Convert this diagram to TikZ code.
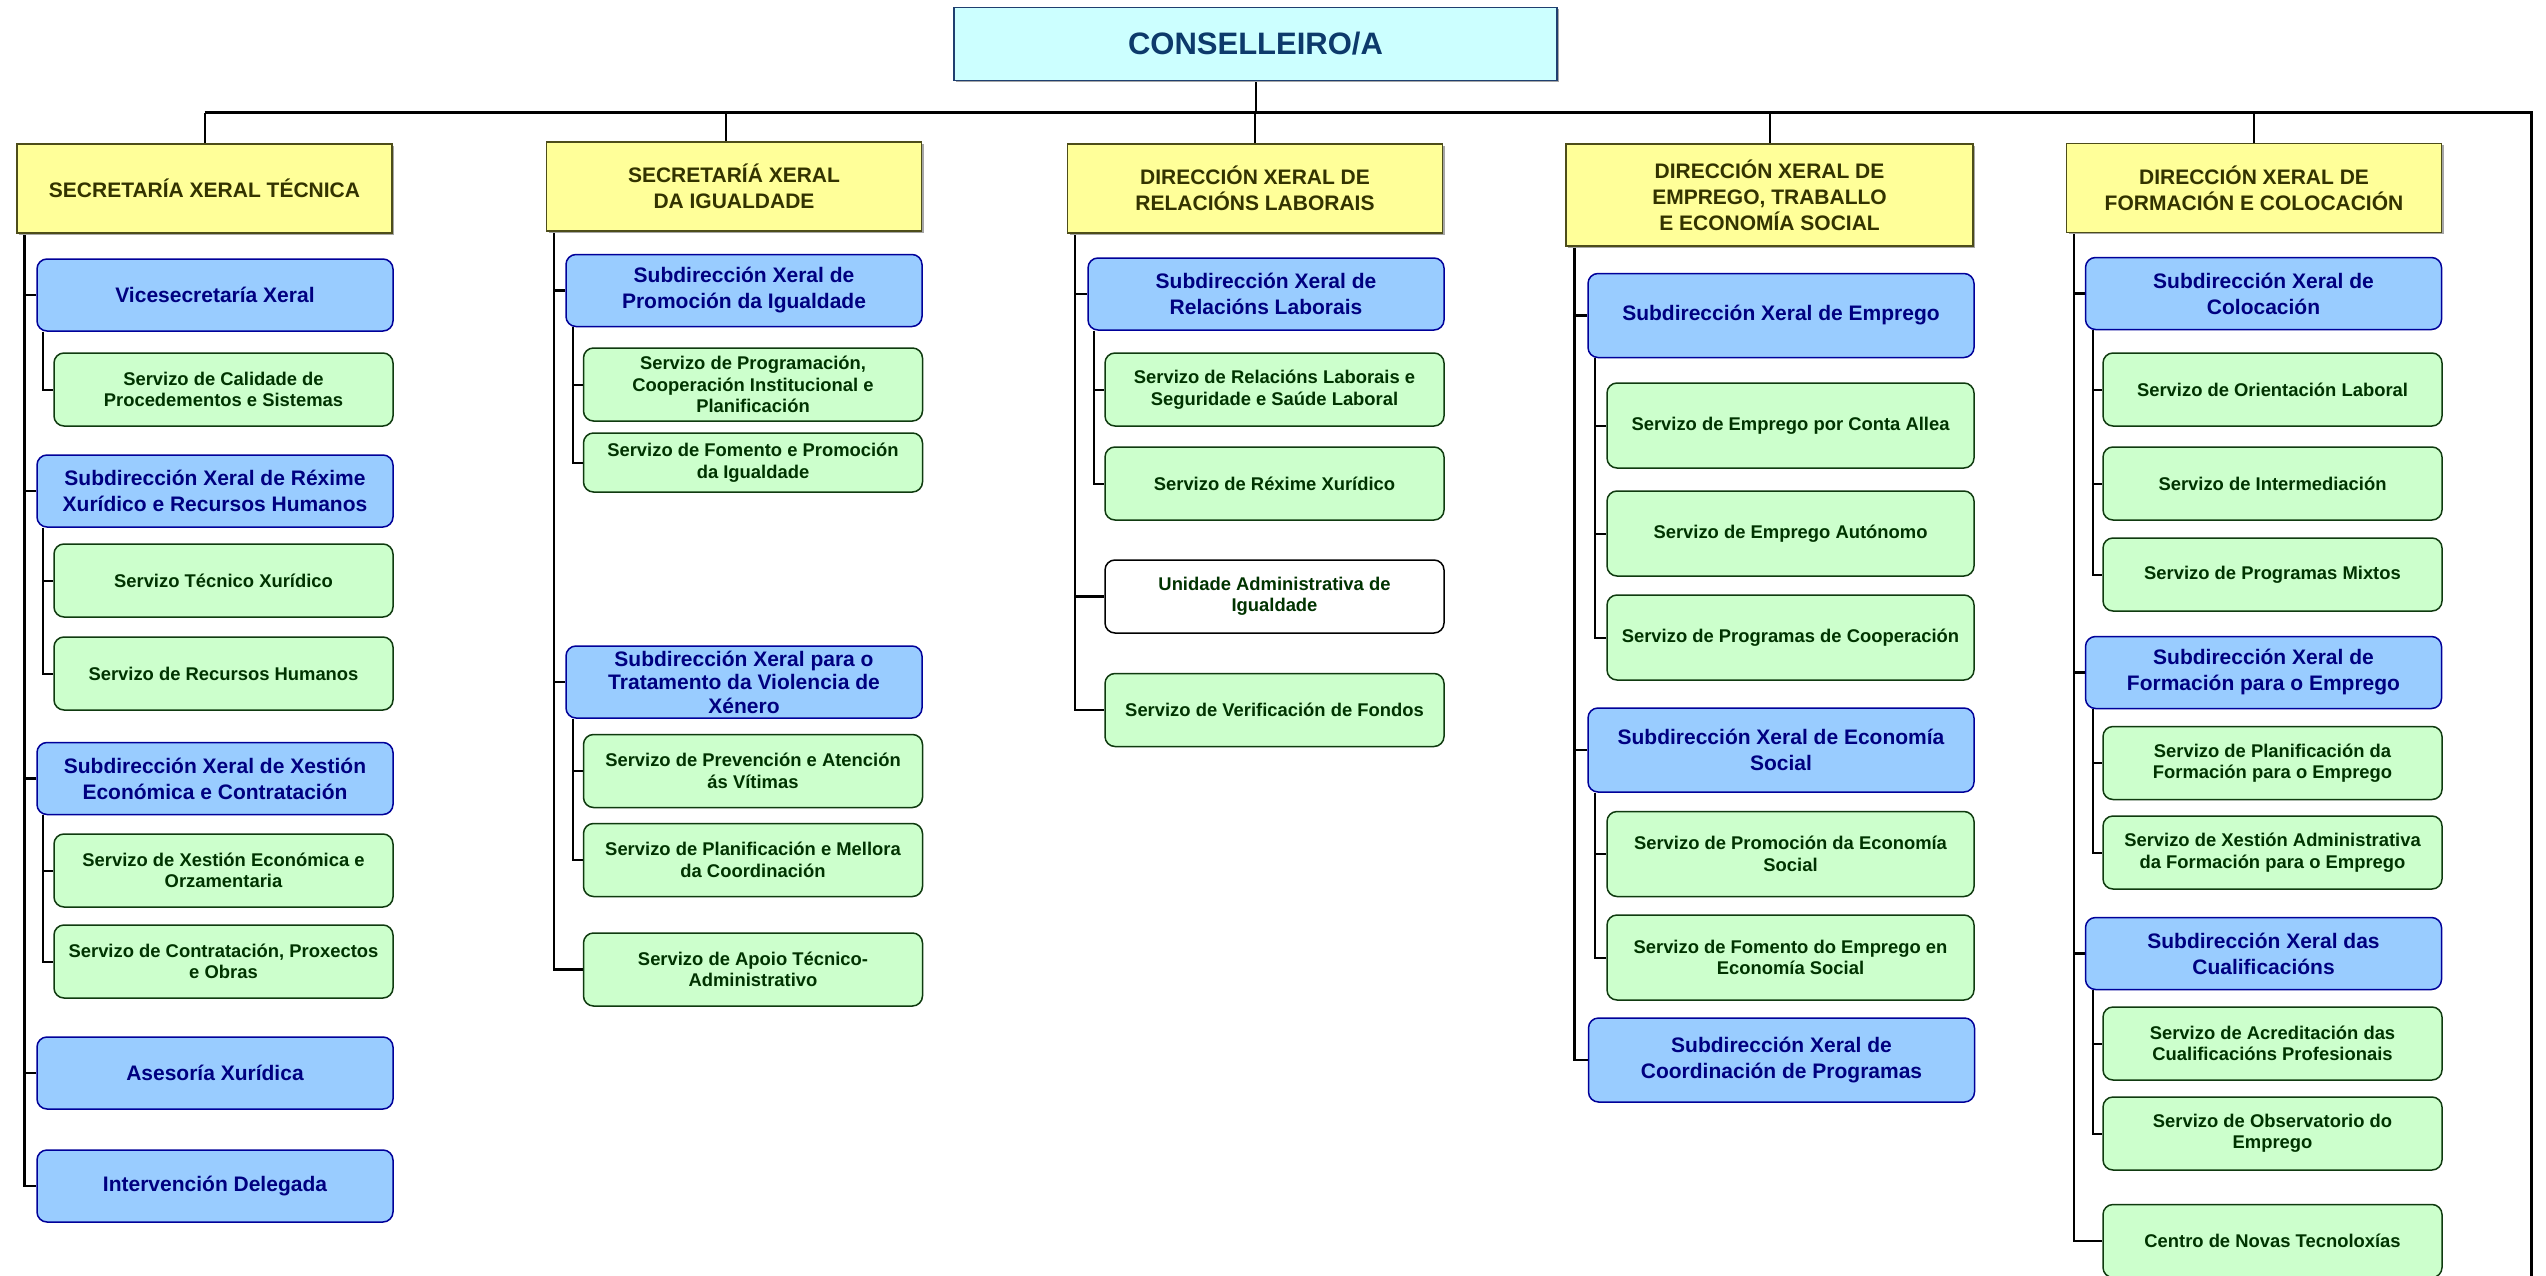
\documentclass[tikz,border=0pt]{standalone}
\usepackage{fontspec}
\setmainfont{Liberation Sans}
\usetikzlibrary{backgrounds,shadows}

\definecolor{chieffill}{HTML}{CCFFFF}
\definecolor{chiefline}{HTML}{1F3F6F}
\definecolor{chieftext}{HTML}{0D3A6B}
\definecolor{dirfill}{HTML}{FFFF99}
\definecolor{dirline}{HTML}{4D4D1A}
\definecolor{dirtext}{HTML}{333300}
\definecolor{subfill}{HTML}{99CCFF}
\definecolor{subline}{HTML}{000099}
\definecolor{subtext}{HTML}{000080}
\definecolor{servfill}{HTML}{CCFFCC}
\definecolor{servline}{HTML}{0F3A0F}
\definecolor{servtext}{HTML}{003300}

\tikzset{
  chief/.style={draw=chiefline, fill=chieffill, line width=1.5pt, text=chieftext,
    font=\bfseries\fontsize{31}{37}\selectfont, minimum width=603pt, minimum height=73pt,
    drop shadow={shadow xshift=2pt, shadow yshift=-2pt, fill=black!35, opacity=1}},
  dirbox/.style={draw=dirline, fill=dirfill, line width=1.5pt, text=dirtext, align=center,
    font=\bfseries\fontsize{21}{26}\selectfont, minimum width=375pt, minimum height=89pt,
    drop shadow={shadow xshift=2pt, shadow yshift=-2pt, fill=black!35, opacity=1}},
  subbox/.style={draw=subline, fill=subfill, rounded corners=10pt, line width=1.5pt,
    text=subtext, align=center, font=\bfseries\fontsize{21}{26}\selectfont,
    minimum width=356pt, minimum height=72pt, inner sep=2pt},
  servbox/.style={draw=servline, fill=servfill, rounded corners=10pt, line width=1.5pt,
    text=servtext, align=center, font=\bfseries\fontsize{18.4}{21.5}\selectfont,
    minimum width=339pt, minimum height=73pt, inner sep=2pt},
  unitbox/.style={servbox, fill=white, draw=black},
  widesub/.style={subbox, minimum width=386pt, minimum height=84pt},
  wideserv/.style={servbox, minimum width=367pt, minimum height=85pt},
  branch/.style={line width=2pt},
  trunk/.style={line width=2.5pt},
  bus/.style={line width=3pt},
}

\begin{document}
\begin{tikzpicture}[x=1pt, y=-1pt]
  \useasboundingbox (0,0) rectangle (2546,1276);
  \coordinate (busL) at (204.5,113);
  \coordinate (busR) at (2531,113);
  \coordinate (busEnd) at (2531,1276);

  \node[chief] (cons) at (1255.5,44) {CONSELLEIRO/A};

  % direccions xerais
  \node[dirbox] (sxt) at (204.5,188.5) {SECRETARÍA XERAL TÉCNICA};
  \node[dirbox] (sxi) at (734,186.5) {SECRETARÍÁ XERAL\\DA IGUALDADE};
  \node[dirbox] (dxrl) at (1255,188.5) {DIRECCIÓN XERAL DE\\RELACIÓNS LABORAIS};
  \node[dirbox, minimum width=407pt, minimum height=102pt] (dxetes) at (1769.5,195)
    {DIRECCIÓN XERAL DE\\EMPREGO, TRABALLO\\E ECONOMÍA SOCIAL};
  \node[dirbox] (dxfc) at (2254,188) {DIRECCIÓN XERAL DE\\FORMACIÓN E COLOCACIÓN};

  % secretaria xeral tecnica
  \node[subbox] (vice) at (215,295) {Vicesecretaría Xeral};
  \node[servbox] (calid) at (223.5,389.5) {Servizo de Calidade de\\Procedementos e Sistemas};
  \node[subbox] (rexime) at (215,491) {Subdirección Xeral de Réxime\\Xurídico e Recursos Humanos};
  \node[servbox] (tecxur) at (223.5,580.5) {Servizo Técnico Xurídico};
  \node[servbox] (rrhh) at (223.5,673.5) {Servizo de Recursos Humanos};
  \node[subbox] (xestec) at (215,778.5) {Subdirección Xeral de Xestión\\Económica e Contratación};
  \node[servbox] (orzam) at (223.5,870.5) {Servizo de Xestión Económica e\\Orzamentaria};
  \node[servbox] (contrat) at (223.5,961.5) {Servizo de Contratación, Proxectos\\e Obras};
  \node[subbox] (asesor) at (215,1073) {Asesoría Xurídica};
  \node[subbox] (interv) at (215,1186) {Intervención Delegada};

  % secretaria xeral da igualdade
  \node[subbox] (promig) at (744,290.5) {Subdirección Xeral de\\Promoción da Igualdade};
  \node[servbox] (program) at (753,384.5) {Servizo de Programación,\\Cooperación Institucional e\\Planificación};
  \node[servbox, minimum height=59pt] (fomento) at (753,462.5) {Servizo de Fomento e Promoción\\da Igualdade};
  \node[subbox, font=\bfseries\fontsize{21}{23.5}\selectfont] (violen) at (744,682)
    {Subdirección Xeral para o\\Tratamento da Violencia de\\Xénero};
  \node[servbox] (prevenc) at (753,771) {Servizo de Prevención e Atención\\ás Vítimas};
  \node[servbox] (planmel) at (753,860) {Servizo de Planificación e Mellora\\da Coordinación};
  \node[servbox] (apoio) at (753,969.5) {Servizo de Apoio Técnico-\\Administrativo};

  % relacions laborais
  \node[subbox] (rellab) at (1266,294) {Subdirección Xeral de\\Relacións Laborais};
  \node[servbox] (segsaude) at (1274.5,389.5) {Servizo de Relacións Laborais e\\Seguridade e Saúde Laboral};
  \node[servbox] (rexxur) at (1274.5,483.5) {Servizo de Réxime Xurídico};
  \node[unitbox] (unidade) at (1274.5,596.5) {Unidade Administrativa de\\Igualdade};
  \node[servbox] (verif) at (1274.5,710) {Servizo de Verificación de Fondos};

  % emprego, traballo e economia social
  \node[widesub] (emprego) at (1781,315.5) {Subdirección Xeral de Emprego};
  \node[wideserv] (contaallea) at (1790.5,425.5) {Servizo de Emprego por Conta Allea};
  \node[wideserv] (autonomo) at (1790.5,533.5) {Servizo de Emprego Autónomo};
  \node[wideserv] (coopera) at (1790.5,637.5) {Servizo de Programas de Cooperación};
  \node[widesub] (econsoc) at (1781,750) {Subdirección Xeral de Economía\\Social};
  \node[wideserv] (promec) at (1790.5,854) {Servizo de Promoción da Economía\\Social};
  \node[wideserv] (fomec) at (1790.5,957.5) {Servizo de Fomento do Emprego en\\Economía Social};
  \node[widesub] (coordprog) at (1781.5,1060) {Subdirección Xeral de\\Coordinación de Programas};

  % formacion e colocacion
  \node[subbox] (coloc) at (2263.5,293.5) {Subdirección Xeral de\\Colocación};
  \node[servbox] (orient) at (2272.5,389.5) {Servizo de Orientación Laboral};
  \node[servbox] (interm) at (2272.5,483.5) {Servizo de Intermediación};
  \node[servbox] (mixtos) at (2272.5,574.5) {Servizo de Programas Mixtos};
  \node[subbox] (formac) at (2263.5,672.5) {Subdirección Xeral de\\Formación para o Emprego};
  \node[servbox] (planform) at (2272.5,763) {Servizo de Planificación da\\Formación para o Emprego};
  \node[servbox] (xestadm) at (2272.5,852.5) {Servizo de Xestión Administrativa\\da Formación para o Emprego};
  \node[subbox] (cualif) at (2263.5,953.5) {Subdirección Xeral das\\Cualificacións};
  \node[servbox] (acredit) at (2272.5,1043.5) {Servizo de Acreditación das\\Cualificacións Profesionais};
  \node[servbox] (observ) at (2272.5,1133.5) {Servizo de Observatorio do\\Emprego};
  \node[servbox] (cnt) at (2272.5,1241) {Centro de Novas Tecnoloxías};

  \begin{scope}[on background layer]
    \draw[bus] (busL) -- (busR) -- (busEnd);
    \draw[branch] (cons.south) -- (cons.south |- busL);
    \foreach \d in {sxt,dxrl,dxetes,dxfc}
      \draw[branch] (\d.north) -- (\d.north |- busL);
    \draw[branch] ([xshift=-8pt]sxi.north) -- ([xshift=-8pt]sxi.north |- busL);

    % trunks
    \foreach \n in {vice,rexime,xestec,asesor,interv}
      \draw[trunk] ([xshift=8pt]sxt.south west) |- (\n.west);
    \foreach \n in {promig,violen,apoio}
      \draw[trunk] ([xshift=8pt]sxi.south west) |- (\n.west);
    \foreach \n in {rellab,unidade,verif}
      \draw[trunk] ([xshift=8pt]dxrl.south west) |- (\n.west);
    \foreach \n in {emprego,econsoc,coordprog}
      \draw[trunk] ([xshift=9pt]dxetes.south west) |- (\n.west);
    \foreach \n in {coloc,formac,cualif,cnt}
      \draw[trunk] ([xshift=8pt]dxfc.south west) |- (\n.west);

    % servizos
    \draw[branch] ([xshift=7pt]vice.south west) |- (calid.west);
    \foreach \n in {tecxur,rrhh}
      \draw[branch] ([xshift=7pt]rexime.south west) |- (\n.west);
    \foreach \n in {orzam,contrat}
      \draw[branch] ([xshift=7pt]xestec.south west) |- (\n.west);
    \foreach \n in {program,fomento}
      \draw[branch] ([xshift=8pt]promig.south west) |- (\n.west);
    \foreach \n in {prevenc,planmel}
      \draw[branch] ([xshift=8pt]violen.south west) |- (\n.west);
    \foreach \n in {segsaude,rexxur}
      \draw[branch] ([xshift=7pt]rellab.south west) |- (\n.west);
    \foreach \n in {contaallea,autonomo,coopera}
      \draw[branch] ([xshift=8pt]emprego.south west) |- (\n.west);
    \foreach \n in {promec,fomec}
      \draw[branch] ([xshift=8pt]econsoc.south west) |- (\n.west);
    \foreach \n in {orient,interm,mixtos}
      \draw[branch] ([xshift=8pt]coloc.south west) |- (\n.west);
    \foreach \n in {planform,xestadm}
      \draw[branch] ([xshift=8pt]formac.south west) |- (\n.west);
    \foreach \n in {acredit,observ}
      \draw[branch] ([xshift=8pt]cualif.south west) |- (\n.west);
  \end{scope}
\end{tikzpicture}
\end{document}
